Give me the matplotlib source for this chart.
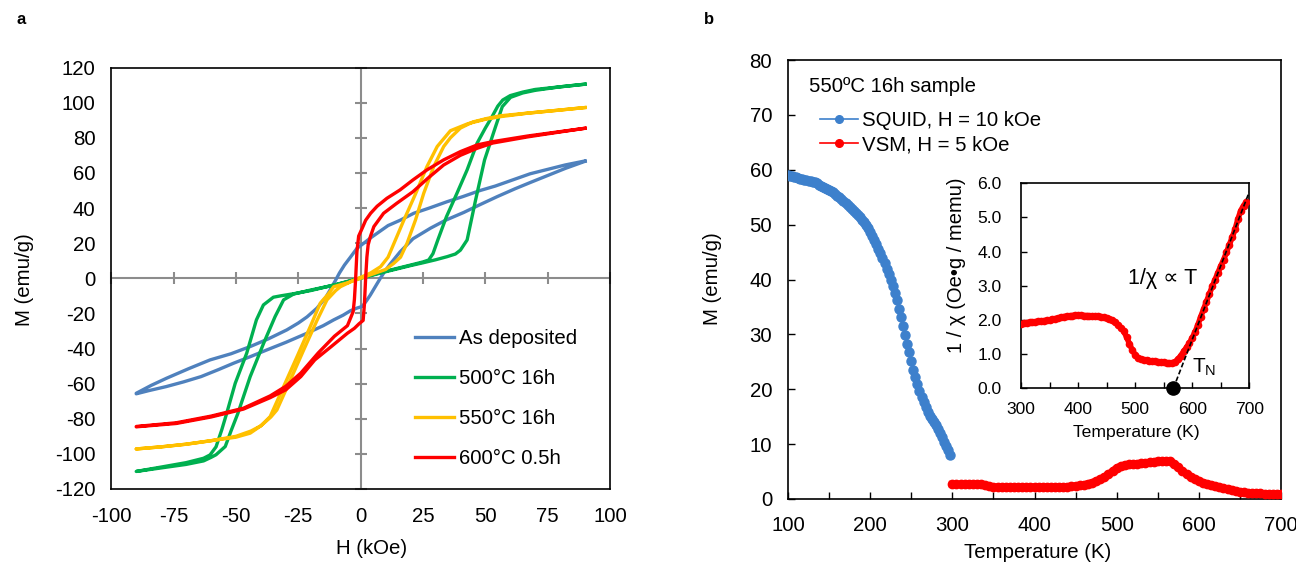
import matplotlib
matplotlib.use('Agg')
import matplotlib.pyplot as plt
import numpy as np

plt.rcParams['font.family'] = ['Liberation Sans', 'DejaVu Sans']
plt.rcParams['axes.unicode_minus'] = False

# ---------------- Panel a data: hysteresis loops ----------------
loop_labels = ['As deposited', '500°C 16h', '550°C 16h', '600°C 0.5h']
loop_colors = ['#4F81BD', '#00B050', '#FFC000', '#FF0000']

asdep_desc_H = [90, 82, 75, 68, 61, 54, 48, 41, 34.7, 27.6, 21.3, 15.8, 11, 7, 4, 1.3, -1.5, -4.1, -6.5,
                -8.5, -10, -12, -14, -17.5, -21.5, -25, -29.6, -37, -44.3, -52, -60.4, -69, -77.8, -84, -90]
asdep_desc_M = [66.8, 64.5, 62, 59.5, 56, 52.5, 50, 46.5, 43.6, 40, 37, 33, 30, 26, 23, 20, 17, 12, 7.5,
                3, -1, -6, -11, -17, -22, -25.5, -29.4, -34.5, -38.9, -43, -46.5, -51.5, -56.9, -61, -65.5]
asdep_asc_H = [-90, -85, -78, -71, -64, -57, -51, -44, -37.6, -30, -21.5, -15, -10.8, -7, -4.1, -1.5, 0.7,
               2.5, 3.9, 6, 7.9, 9.5, 11.8, 15.8, 21, 28, 34, 41.4, 48, 54.8, 62, 68, 75, 82, 90]
asdep_asc_M = [-65.8, -64, -61.7, -59, -56, -52, -48.4, -44.5, -40.8, -36.5, -31.3, -27, -23.7, -21, -18.5,
               -17, -16, -12.5, -9.5, -4.5, 0, 3.5, 8, 15, 22.5, 28.5, 33, 37.5, 42, 46.5, 51, 54.5, 58.5,
               62.5, 66.6]

g500_desc_H = [90, 80, 70, 65, 60, 57, 55, 52.7, 50, 46.7, 42.7, 38.5, 34.4, 31, 29, 27.3, 25, 20, 10, 0,
               -10, -20, -26, -32, -35, -39, -41.8, -45.7, -50.3, -53.7, -55.7, -58, -60.4, -63, -70, -80, -90]
g500_desc_M = [110.5, 109, 107.5, 106, 104, 101.5, 98, 92, 85.5, 76.9, 61.7, 48, 35, 22, 14, 10.4, 9.3, 7.5,
               4, 0.2, -3.6, -7, -8.6, -10, -10.8, -15.2, -23.7, -42.7, -59.8, -76.8, -86.3, -96, -100.6,
               -102.5, -105, -107.5, -110]
g500_asc_H = [-90, -80, -70, -63, -60, -58, -54.3, -52, -49.2, -44.3, -38.9, -34.3, -30.9, -26.9, -20, -10, 0,
              10, 20, 25, 30, 34.7, 38, 40, 42.7, 46.1, 49.7, 54.1, 56.8, 60.1, 65, 70, 80, 90]
g500_asc_M = [-110, -108, -106, -104, -102, -100.5, -95.8, -87, -76.8, -56, -37, -21.8, -12.3, -9, -6.7, -3.7,
              0, 3.7, 7.2, 8.8, 10.5, 12.3, 13.8, 16, 21.8, 44.6, 67.4, 86.3, 97.7, 103, 105.5, 107, 109, 110.5]

y550_desc_H = [90, 80, 67, 56, 50, 43, 36, 30.7, 26.6, 22, 17.3, 14, 11, 8, 4, 0, -5, -10.8, -13, -16.2,
               -20.2, -25.5, -30.9, -36.3, -40, -44.3, -50, -60, -70, -80, -90]
y550_desc_M = [97.2, 95.8, 94, 92, 90.5, 88, 84, 75, 63.6, 48, 33, 22, 12, 6.6, 3, 0.5, -2.5, -4.8, -9,
               -14.2, -27.5, -44.6, -61.7, -78.8, -84, -88.2, -90.5, -92.5, -94.5, -96, -97.2]
y550_asc_H = [-90, -80, -70, -60, -50, -44, -40, -36, -33.6, -28.2, -22.9, -17.5, -13.5, -10, -8.1, -4, 0, 5,
              10, 13.3, 16, 18.6, 22, 25.3, 29.3, 33.3, 36, 40, 45, 50.7, 56, 66.8, 80.2, 90]
y550_asc_M = [-97.2, -96, -94.5, -92.5, -90, -87, -84, -79, -75, -58, -41, -24, -12.3, -7, -4.8, -2, 0, 2.5,
              5, 8.5, 12, 19.9, 33.2, 48.4, 63.6, 75, 80, 85.5, 89, 91, 92.5, 94, 95.8, 97.2]

r600_desc_H = [90, 80, 67, 53, 46.7, 40, 33.3, 26.6, 21, 15.8, 10.5, 6.6, 4, 2, 0.6, -0.8, -1.5, -2, -2.5, -3,
               -4, -5.3, -10.5, -17, -24, -30, -36.3, -47, -60, -74, -90]
r600_desc_M = [85.4, 83.5, 81, 77.8, 75.9, 72.1, 67.4, 61.7, 56, 50.3, 45.5, 41, 37, 33, 28.4, 24, 15, 0,
               -12, -19, -22.5, -27, -33, -42.5, -54, -61.5, -67, -74, -78.5, -82.3, -84.4]
r600_asc_H = [-90, -74, -60, -47, -36.3, -30, -24, -18.4, -11.8, -5.3, -2.5, -0.7, 1, 1.5, 2, 2.5, 3, 3.9,
              5.3, 9.2, 14.5, 21, 27, 33.3, 40, 46.7, 53, 67, 80, 90]
r600_asc_M = [-84.6, -82.7, -79, -74.5, -68, -63.5, -56, -46.5, -38.9, -31.3, -28.5, -26, -24, -15, 0, 12,
              19, 23.7, 29.4, 37, 42.7, 49.3, 57, 64.5, 70, 74, 77, 80.5, 83.3, 85.4]

a_xticks = [-100, -75, -50, -25, 0, 25, 50, 75, 100]
a_yticks = [-120, -100, -80, -60, -40, -20, 0, 20, 40, 60, 80, 100, 120]

# ---------------- Panel b data ----------------
squid_T = [100, 102.5, 105, 107.5, 110, 112.5, 115, 117.5, 120, 122.5, 125, 127.5, 130, 132.5, 135, 137.5,
           140, 142.5, 145, 147.5, 150, 152.5, 155, 157.5, 160, 162.5, 165, 167.5, 170, 172.5, 175, 177.5,
           180, 182.5, 185, 187.5, 190, 192.5, 195, 197.5, 200, 202.5, 205, 207.5, 210, 212.5, 215, 217.5,
           220, 222.5, 225, 227.5, 230, 232.5, 235, 237.5, 240, 242.5, 245, 247.5, 250, 252.5, 255, 257.5,
           260, 262.5, 265, 267.5, 270, 272.5, 275, 277.5, 280, 282.5, 285, 287.5, 290, 292.5, 295, 297.5]
squid_M = [59.0, 58.9, 58.8, 58.7, 58.6, 58.5, 58.4, 58.3, 58.2, 58.1, 58.0, 57.9, 57.8, 57.7, 57.5, 57.3,
           57.1, 56.9, 56.7, 56.5, 56.3, 56.1, 55.9, 55.6, 55.3, 55.0, 54.6, 54.3, 53.9, 53.6, 53.2, 52.8,
           52.5, 52.1, 51.7, 51.3, 50.9, 50.5, 49.9, 49.3, 48.6, 47.9, 47.2, 46.4, 45.6, 44.8, 43.9, 43.0,
           42.0, 41.0, 39.9, 38.8, 37.6, 36.2, 34.7, 33.1, 31.5, 29.9, 28.3, 26.7, 25.1, 23.5, 22.2, 21.0,
           19.7, 18.6, 17.6, 16.7, 15.9, 15.2, 14.6, 14.0, 13.4, 12.8, 12.1, 11.3, 10.4, 9.6, 8.9, 8.1]

vsm_T = list(range(300, 705, 5))
vsm_M = [2.7, 2.7, 2.7, 2.7, 2.7, 2.7, 2.7, 2.7, 2.6, 2.3, 2.2, 2.2, 2.2, 2.2, 2.2, 2.2, 2.2, 2.2, 2.2, 2.2,
         2.2, 2.2, 2.2, 2.2, 2.2, 2.2, 2.2, 2.2, 2.2, 2.3, 2.4, 2.5, 2.6, 2.8, 3.0, 3.3, 3.6, 4.0, 4.5, 5.1,
         5.7, 6.0, 6.2, 6.3, 6.3, 6.4, 6.5, 6.6, 6.7, 6.8, 6.9, 7.0, 7.0, 6.9, 6.4, 5.8, 5.1, 4.5, 4.0, 3.6,
         3.3, 3.0, 2.8, 2.6, 2.4, 2.2, 2.0, 1.9, 1.7, 1.5, 1.3, 1.2, 1.15, 1.1, 1.1, 1.05, 1.0, 1.0, 1.0,
         1.0, 1.0]

inv_T = list(range(300, 700, 5))
inv_chi = [1.88, 1.90, 1.92, 1.93, 1.94, 1.95, 1.96, 1.97, 1.98, 1.99, 2.00, 2.02, 2.04, 2.06, 2.08, 2.10,
           2.11, 2.12, 2.13, 2.14, 2.14, 2.14, 2.13, 2.13, 2.12, 2.12, 2.11, 2.11, 2.10, 2.08, 2.06, 2.03,
           1.99, 1.93, 1.86, 1.77, 1.67, 1.50, 1.30, 1.12, 0.98, 0.90, 0.86, 0.84, 0.82, 0.81, 0.80, 0.79,
           0.78, 0.77, 0.76, 0.75, 0.74, 0.75, 0.78, 0.85, 0.96, 1.08, 1.20, 1.32, 1.48, 1.65, 1.86, 2.10,
           2.32, 2.54, 2.76, 2.98, 3.18, 3.38, 3.58, 3.76, 3.98, 4.20, 4.42, 4.65, 4.95, 5.20, 5.35, 5.45]
fit_T = [567, 700]
fit_v = [0.0, 5.75]
TN_T = [567]
TN_v = [0.0]

W, H = 1296, 566
fig = plt.figure(figsize=(W / 100, H / 100), dpi=100)

def fx(px):
    return px / W

def fy(py):
    return 1 - py / H

FS = 14.7
# ---------------- Panel a ----------------
axa = fig.add_axes([fx(111.3), fy(489), fx(610) - fx(111.3), fy(67.5) - fy(489)])
axa.set_xlim(-100, 100)
axa.set_ylim(-120, 120)
axa.axhline(0, color='#8C8C8C', lw=1.5, zorder=1)
axa.axvline(0, color='#8C8C8C', lw=1.5, zorder=1)
xt_nz = [v for v in a_xticks if v != 0]
yt_nz = [v for v in a_yticks if v != 0]
axa.plot(xt_nz, [0] * len(xt_nz), ls='none', marker='|', ms=9, mew=1.5, color='#8C8C8C', clip_on=False, zorder=1)
axa.plot([0] * len(yt_nz), yt_nz, ls='none', marker='_', ms=9, mew=1.5, color='#8C8C8C', clip_on=False, zorder=1)

loops = [(asdep_desc_H, asdep_desc_M, asdep_asc_H, asdep_asc_M),
         (g500_desc_H, g500_desc_M, g500_asc_H, g500_asc_M),
         (y550_desc_H, y550_desc_M, y550_asc_H, y550_asc_M),
         (r600_desc_H, r600_desc_M, r600_asc_H, r600_asc_M)]
for (dH, dM, aH, aM), lab, col in zip(loops, loop_labels, loop_colors):
    axa.plot(list(dH) + list(aH), list(dM) + list(aM), color=col, lw=2.4, label=lab,
             solid_joinstyle='round', zorder=3)

axa.set_xticks(a_xticks)
axa.set_yticks(a_yticks)
axa.tick_params(length=0, labelsize=FS)
axa.tick_params(axis='y', pad=11.5)
axa.tick_params(axis='x', pad=13)
for s in axa.spines.values():
    s.set_linewidth(1.2)
    s.set_color('black')
axa.legend(loc='upper left', bbox_to_anchor=(0.608, 0.379), frameon=False, borderpad=0, borderaxespad=0,
           handlelength=1.95, handletextpad=0.25, labelspacing=1.02, fontsize=FS)
fig.text(fx(24.7), fy(280), 'M (emu/g)', rotation=90, ha='center', va='center', fontsize=FS)
fig.text(fx(372), fy(548.6), 'H (kOe)', ha='center', va='center', fontsize=FS)
fig.text(fx(21), fy(20), 'a', ha='center', va='center', fontsize=12, fontweight='bold')

# ---------------- Panel b ----------------
axb = fig.add_axes([fx(788), fy(499), fx(1281) - fx(788), fy(60) - fy(499)])
axb.set_xlim(100, 700)
axb.set_ylim(0, 80)
axb.plot(squid_T, squid_M, '-o', color='#3D80CC', mec='#3D80CC', ms=6.5, lw=1, label='SQUID, H = 10 kOe',
         zorder=3)
axb.plot(vsm_T, vsm_M, '-o', color='#FF0000', mec='#FF0000', ms=6, lw=5, label='VSM, H = 5 kOe',
         zorder=3)
axb.set_xticks(range(100, 701, 100))
axb.set_xticks(range(150, 700, 100), minor=True)
axb.set_yticks(range(0, 81, 10))
axb.tick_params(which='both', direction='in', length=5, width=1, labelsize=FS)
axb.tick_params(axis='y', pad=11.5)
axb.tick_params(axis='x', pad=12)
for s in axb.spines.values():
    s.set_linewidth(1.2)
    s.set_color('black')
leg = axb.legend(loc='upper left', bbox_to_anchor=(0.064, 0.884), frameon=False, borderpad=0,
                 borderaxespad=0, handlelength=1.87, handletextpad=0.22, labelspacing=0.28, fontsize=FS,
                 numpoints=1)
for h in leg.legend_handles:
    h.set_linewidth(1.2)
    h.set_markersize(5.5)
axb.text(fx(809), fy(86), '550ºC 16h sample', transform=fig.transFigure, ha='left', va='center',
         fontsize=FS)
fig.text(fx(712), fy(279), 'M (emu/g)', rotation=90, ha='center', va='center', fontsize=FS)
fig.text(fx(1038), fy(553), 'Temperature (K)', ha='center', va='center', fontsize=FS)
fig.text(fx(709), fy(20), 'b', ha='center', va='center', fontsize=12, fontweight='bold')

# ---------------- Inset ----------------
FSI = 12.6
axi = fig.add_axes([fx(1021), fy(388.3), fx(1249.3) - fx(1021), fy(183.3) - fy(388.3)])
axi.set_xlim(300, 700)
axi.set_ylim(0, 6)
axi.plot(inv_T, inv_chi, '-o', color='#FF0000', mec='#FF0000', ms=4.5, lw=4, zorder=3)
axi.plot(fit_T, fit_v, color='black', lw=1.2, dashes=(3, 1.5), zorder=4)
axi.plot(TN_T, TN_v, 'o', color='black', ms=9.5, clip_on=False, zorder=5)
axi.set_xticks(range(300, 701, 100))
axi.set_xticks(range(350, 700, 100), minor=True)
axi.set_yticks(np.arange(0, 6.01, 1.0))
axi.set_yticklabels(['%.1f' % v for v in np.arange(0, 6.01, 1.0)])
axi.tick_params(which='both', direction='in', length=4, width=1, labelsize=FSI)
axi.tick_params(axis='y', pad=14)
axi.tick_params(axis='x', pad=10)
for s in axi.spines.values():
    s.set_linewidth(1.2)
    s.set_color('black')
axi.text(488, 3.2, '1/χ ∝ T', ha='left', va='center', fontsize=15.5)
axi.text(600, 0.62, r'T$_\mathregular{N}$', ha='left', va='center', fontsize=15)
fig.text(fx(1136), fy(433), 'Temperature (K)', ha='center', va='center', fontsize=FSI)
fig.text(fx(957), fy(265), '1 / χ (Oe•g / memu)', rotation=90, ha='center', va='center', fontsize=14.5)

fig.savefig('out.png', dpi=100)
